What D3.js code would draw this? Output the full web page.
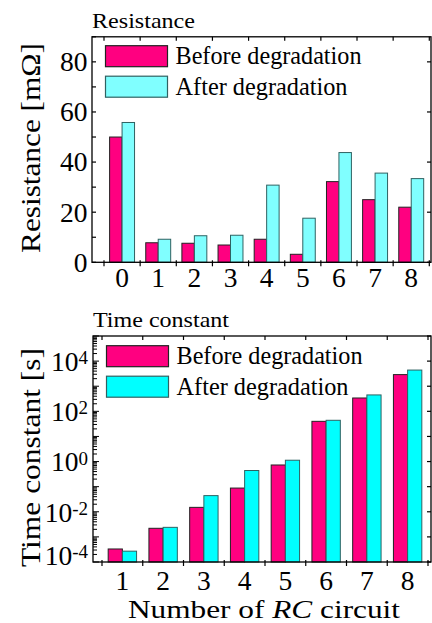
<!DOCTYPE html>
<html>
<head>
<meta charset="utf-8">
<script src="https://cdn.jsdelivr.net/npm/d3@7"></script>
<style>
  body { margin: 0; background: #fff; }
  text { font-family: 'Liberation Serif', 'DejaVu Serif', serif; }
</style>
</head>
<body>
<svg id="chart"></svg>
<script>
// series names
const seriesNames = ["Before degradation", "After degradation"];

// resistance panel
const resCategories = [0, 1, 2, 3, 4, 5, 6, 7, 8];
const resBefore = [50.0, 7.8, 7.6, 6.9, 9.2, 3.2, 32.2, 25.0, 22.0];
const resAfter = [55.8, 9.2, 10.6, 10.8, 30.8, 17.6, 43.8, 35.6, 33.4];
const resTicks = [0, 20, 40, 60, 80];

// time constant panel
const tauCategories = [1, 2, 3, 4, 5, 6, 7, 8];
const tauBefore = [3.3e-4, 2.2e-3, 0.015, 0.088, 0.73, 40, 340, 2900];
const tauAfter = [2.7e-4, 2.4e-3, 0.044, 0.44, 1.13, 44, 450, 4400];
const tauTickExps = [-4, -2, 0, 2, 4];

const width = 432, height = 623;
const svg = d3.select("#chart").attr("width", width).attr("height", height);
svg.append("rect").attr("width", width).attr("height", height).attr("fill", "#fff");

const tickFont = 27.5;
// legend text widths in the original (glyphs there are a bit wider than Times)
const legendLen = [186, 172];

function stretch(sel, len) {
  return sel.attr("textLength", len).attr("lengthAdjust", "spacingAndGlyphs");
}

function panel(opts) {
  const { cats, before, after, y, xRange, frameX, title, titleY, titleLen, yTitle, yTitleY,
          yTitleLen, fills, strokes, pad, legendY, xLabelY } = opts;
  const [fx0, fx1] = frameX;
  const [yb, yt] = y.range();
  const g = svg.append("g");

  const x = d3.scaleBand().domain(cats).range(xRange);
  const xs = d3.scaleBand().domain(seriesNames).range([0, x.bandwidth()])
    .paddingInner(0).paddingOuter(pad);

  const rows = cats.map((c, i) => ({ c, vals: [before[i], after[i]] }));
  const base = y.domain()[0];

  // bars
  g.append("g").selectAll("g").data(rows).join("g")
    .attr("transform", d => `translate(${x(d.c)},0)`)
    .selectAll("rect")
    .data(d => d.vals.map((v, k) => ({ k, v })))
    .join("rect")
    .attr("x", d => xs(seriesNames[d.k]))
    .attr("width", xs.bandwidth())
    .attr("y", d => y(d.v))
    .attr("height", d => y(base) - y(d.v))
    .attr("fill", d => fills[d.k])
    .attr("stroke", d => strokes[d.k])
    .attr("stroke-width", 1);

  // frame
  g.append("rect").attr("x", fx0).attr("y", yt).attr("width", fx1 - fx0).attr("height", yb - yt)
    .attr("fill", "none").attr("stroke", "#000").attr("stroke-width", 1.3);

  // x ticks at category boundaries
  const bounds = cats.map(c => x(c)).concat([x(cats[cats.length - 1]) + x.bandwidth()]);
  g.append("g").selectAll("line").data(bounds).join("line")
    .attr("x1", d => d).attr("x2", d => d).attr("y1", yb - 2).attr("y2", yb + 4)
    .attr("stroke", "#000").attr("stroke-width", 1.2);
  g.append("g").selectAll("line").data(bounds).join("line")
    .attr("x1", d => d).attr("x2", d => d).attr("y1", yt).attr("y2", yt + 4)
    .attr("stroke", "#000").attr("stroke-width", 1.2);

  // x labels
  g.append("g").selectAll("text").data(cats).join("text")
    .attr("x", d => x(d) + x.bandwidth() / 2)
    .attr("y", xLabelY)
    .attr("text-anchor", "middle")
    .attr("font-size", tickFont)
    .text(d => d);

  // title
  g.append("text").attr("x", fx0).attr("y", titleY).attr("font-size", 21)
    .call(stretch, titleLen).text(title);

  // y title
  g.append("text")
    .attr("transform", `translate(39.5,${yTitleY}) rotate(-90)`)
    .attr("text-anchor", "middle")
    .attr("font-size", 28)
    .call(stretch, yTitleLen)
    .text(yTitle);

  // legend
  const lg = g.append("g").selectAll("g").data(seriesNames).join("g")
    .attr("transform", (d, i) => `translate(${fx0 + 13.5},${legendY + i * 30.5})`);
  lg.append("rect").attr("width", 62).attr("height", 21)
    .attr("fill", (d, i) => fills[i]).attr("stroke", (d, i) => strokes[i]).attr("stroke-width", 1.2);
  lg.append("text").attr("x", 70).attr("y", 18.5).attr("font-size", 25)
    .attr("textLength", (d, i) => legendLen[i]).attr("lengthAdjust", "spacingAndGlyphs")
    .text(d => d);

  return g;
}

// ---- top panel: resistance
const yRes = d3.scaleLinear().domain([0, 90]).range([262.3, 36.8]);
const gTop = panel({
  cats: resCategories, before: resBefore, after: resAfter, y: yRes,
  xRange: [104, 429.3], frameX: [92, 431], title: "Resistance", titleY: 28, titleLen: 103,
  yTitle: "Resistance [m\u03A9]", yTitleY: 148, yTitleLen: 210,
  fills: ["#ff0080", "#80ffff"], strokes: ["#222", "#2f6262"], pad: 0.45,
  legendY: 45.7, xLabelY: 287
});
gTop.append("g").selectAll("line").data(d3.range(0, 91, 10)).join("line")
  .attr("x1", 92).attr("x2", 96).attr("y1", d => yRes(d)).attr("y2", d => yRes(d))
  .attr("stroke", "#000").attr("stroke-width", 1.2);
gTop.append("g").selectAll("line").data(resTicks).join("line")
  .attr("x1", 431).attr("x2", 427).attr("y1", d => yRes(d)).attr("y2", d => yRes(d))
  .attr("stroke", "#000").attr("stroke-width", 1.2);
gTop.append("g").selectAll("text").data(resTicks).join("text")
  .attr("x", 87.5).attr("y", d => yRes(d)).attr("dy", "0.34em")
  .attr("text-anchor", "end").attr("font-size", tickFont).text(d => d);

// ---- bottom panel: time constant
const yTau = d3.scaleLog().domain([1e-4, 1e5]).range([562, 336]);
const gBot = panel({
  cats: tauCategories, before: tauBefore, after: tauAfter, y: yTau,
  xRange: [102, 428], frameX: [93, 431], title: "Time constant", titleY: 327, titleLen: 136,
  yTitle: "Time constant [s]", yTitleY: 457.5, yTitleLen: 219,
  fills: ["#ff0080", "#00ffff"], strokes: ["#222", "#2f6262"], pad: 0.435,
  legendY: 345.7, xLabelY: 590
});
const isDecade = d => Math.abs(Math.log10(d) - Math.round(Math.log10(d))) < 1e-9;
gBot.append("g").selectAll("line").data(yTau.ticks()).join("line")
  .attr("x1", 93).attr("x2", d => isDecade(d) ? 99 : 97)
  .attr("y1", d => yTau(d)).attr("y2", d => yTau(d))
  .attr("stroke", "#000").attr("stroke-width", 1);
gBot.append("g").selectAll("line").data(yTau.ticks().filter(isDecade)).join("line")
  .attr("x1", 431).attr("x2", 427).attr("y1", d => yTau(d)).attr("y2", d => yTau(d))
  .attr("stroke", "#000").attr("stroke-width", 1.2);
// lowest label sits a little higher so it clears the axis
const tl = gBot.append("g").selectAll("text").data(tauTickExps).join("text")
  .attr("x", 88).attr("y", (d, i) => yTau(Math.pow(10, d)) - (i === 0 ? 7 : 0)).attr("dy", "0.36em")
  .attr("text-anchor", "end").attr("font-size", tickFont);
tl.append("tspan").text("10");
tl.append("tspan").attr("dy", "-0.36em").attr("font-size", 19).text(d => d < 0 ? "-" + Math.abs(d) : d);

// x axis title
svg.append("text").attr("x", 264).attr("y", 618).attr("text-anchor", "middle")
  .attr("font-size", 26)
  .call(stretch, 272)
  .call(t => {
    t.append("tspan").text("Number of ");
    t.append("tspan").attr("font-style", "italic").text("RC");
    t.append("tspan").text(" circuit");
  });
</script>
</body>
</html>
